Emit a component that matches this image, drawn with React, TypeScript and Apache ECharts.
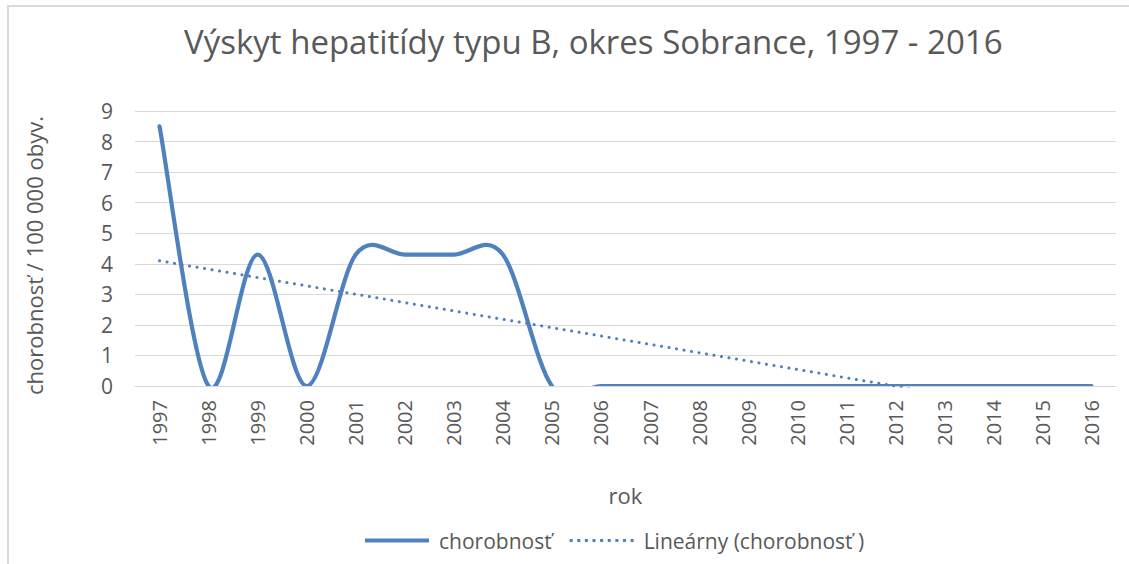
import React, { useEffect, useRef } from "react";
import * as echarts from "echarts";

const years = ["1997","1998","1999","2000","2001","2002","2003","2004","2005","2006","2007","2008","2009","2010","2011","2012","2013","2014","2015","2016"];
const incidence = [8.5, 0, 4.3, 0, 4.3, 4.3, 4.3, 4.3, 0, 0, 0, 0, 0, 0, 0, 0, 0, 0, 0, 0];
const yTicks = [0, 9, 1];

const TITLE = "Výskyt hepatitídy typu B, okres Sobrance, 1997 - 2016";
const SERIES_NAME = "chorobnosť";
const TREND_NAME = "Lineárny (chorobnosť )";

function linearTrend(values: number[]): number[] {
  const n = values.length;
  const xs = values.map((_, i) => i + 1);
  const mx = xs.reduce((a, b) => a + b, 0) / n;
  const my = values.reduce((a, b) => a + b, 0) / n;
  let sxy = 0, sxx = 0;
  for (let i = 0; i < n; i++) {
    sxy += (xs[i] - mx) * (values[i] - my);
    sxx += (xs[i] - mx) * (xs[i] - mx);
  }
  const b = sxy / sxx;
  const a = my - b * mx;
  return xs.map((x) => +(a + b * x).toFixed(4));
}

const FONT = "'Open Sans', 'Noto Sans', sans-serif";
const TXT = "#595959";
const BLUE = "#4f81bd";

// Excel-like smoothed curve (Catmull-Rom -> cubic Bezier) built in pixel space from axis coords
function renderSmooth(params: any, api: any) {
  if (params.dataIndex !== 0) return null;
  const pts = incidence.map((v, i) => api.coord([i, v]));
  const n = pts.length;
  const k = 1 / 6;
  let d = `M${pts[0][0]},${pts[0][1]}`;
  for (let i = 0; i < n - 1; i++) {
    const p0 = pts[Math.max(0, i - 1)];
    const p1 = pts[i];
    const p2 = pts[i + 1];
    const p3 = pts[Math.min(n - 1, i + 2)];
    const c1x = p1[0] + (p2[0] - p0[0]) * k;
    const c1y = p1[1] + (p2[1] - p0[1]) * k;
    const c2x = p2[0] - (p3[0] - p1[0]) * k;
    const c2y = p2[1] - (p3[1] - p1[1]) * k;
    d += ` C${c1x},${c1y} ${c2x},${c2y} ${p2[0]},${p2[1]}`;
  }
  const cs = params.coordSys;
  return {
    type: "group",
    clipPath: { type: "rect", shape: { x: cs.x - 4, y: cs.y - 4, width: cs.width + 8, height: cs.height + 4 } },
    children: [
      {
        type: "path",
        shape: { pathData: d },
        style: { stroke: BLUE, lineWidth: 4.2, fill: "none", lineCap: "round", lineJoin: "round" },
      },
    ],
  };
}

const solidIcon = "path://M0,0h62v4h-62z";
const dotIcon =
  "path://" +
  Array.from({ length: 9 }, (_, i) => `M${i * 7.5},0h3v3h-3z`).join("");

export default function App() {
  const ref = useRef<HTMLDivElement>(null);
  useEffect(() => {
    if (!ref.current) return;
    const chart = echarts.init(ref.current, undefined, { renderer: "svg" });
    chart.setOption({
      animation: false,
      backgroundColor: "#ffffff",
      textStyle: { fontFamily: FONT, color: TXT },
      title: {
        text: TITLE,
        left: 179,
        top: 20,
        textStyle: { fontFamily: FONT, fontSize: 33, fontWeight: "normal", color: TXT },
      },
      graphic: [
        {
          type: "rect",
          shape: { x: 8, y: 6, width: 1200, height: 700 },
          style: { fill: "none", stroke: "#d9d9d9", lineWidth: 2 },
          silent: true,
        },
      ],
      grid: { left: 135, right: 13, top: 111, bottom: 178 },
      legend: {
        top: 525,
        left: 360,
        itemWidth: 64,
        itemHeight: 14,
        itemGap: 18,
        selectedMode: false,
        textStyle: { fontFamily: FONT, fontSize: 21, color: TXT, padding: [0, 0, 0, 5] },
        data: [
          { name: SERIES_NAME, icon: solidIcon, itemStyle: { color: BLUE, borderWidth: 0 } },
          { name: TREND_NAME, icon: dotIcon, itemStyle: { color: BLUE, borderWidth: 0 } },
        ],
      },
      xAxis: {
        type: "category",
        data: years,
        boundaryGap: true,
        name: "rok",
        nameLocation: "middle",
        nameGap: 98,
        nameTextStyle: { fontFamily: FONT, fontSize: 22, color: TXT },
        axisLine: { show: true, lineStyle: { color: "#d9d9d9", width: 1 } },
        axisTick: { show: false },
        axisLabel: { rotate: 90, fontSize: 20, color: TXT, margin: 14, fontFamily: FONT },
      },
      yAxis: {
        type: "value",
        min: yTicks[0],
        max: yTicks[1],
        interval: yTicks[2],
        name: "chorobnosť / 100 000 obyv.",
        nameLocation: "middle",
        nameGap: 90,
        nameTextStyle: { fontFamily: FONT, fontSize: 22, color: TXT, padding: [0, 14, 0, 0] },
        axisLine: { show: false },
        axisTick: { show: false },
        axisLabel: { fontSize: 21, color: TXT, margin: 22, fontFamily: FONT },
        splitLine: { lineStyle: { color: "#d9d9d9", width: 1 } },
      },
      series: [
        {
          name: SERIES_NAME,
          type: "custom",
          data: incidence.map((v, i) => [i, v]),
          encode: { x: 0, y: 1 },
          renderItem: renderSmooth,
          clip: true,
          itemStyle: { color: BLUE },
          z: 3,
        },
        {
          name: TREND_NAME,
          type: "line",
          data: linearTrend(incidence),
          symbol: "none",
          clip: true,
          lineStyle: { color: BLUE, width: 3, type: [0.1, 7.5], cap: "round" },
          itemStyle: { color: BLUE },
          z: 2,
        },
      ],
    });
    return () => chart.dispose();
  }, []);
  return (
    <div
      ref={ref}
      style={{ position: "fixed", left: 0, top: 0, width: 1129, height: 564, background: "#fff" }}
    />
  );
}
